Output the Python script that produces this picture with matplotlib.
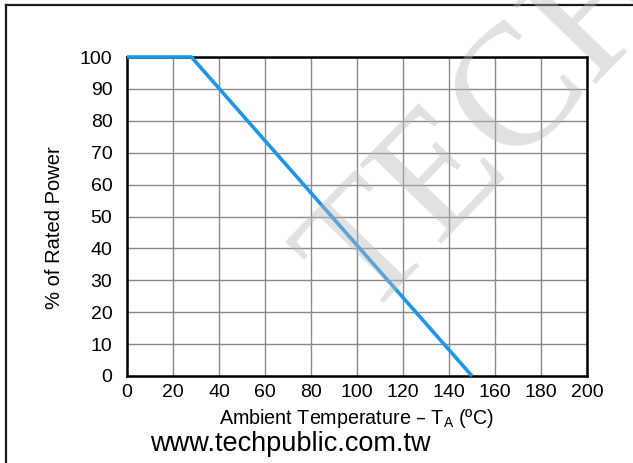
import matplotlib
matplotlib.use("Agg")
import matplotlib.pyplot as plt
from matplotlib.lines import Line2D

plt.rcParams['font.family'] = ['Liberation Sans', 'DejaVu Sans']

# derating curve
temp = [0, 28, 150]
power = [100, 100, 0]
xticks = list(range(0, 201, 20))
yticks = list(range(0, 101, 10))

W, H = 633, 463
fig = plt.figure(figsize=(W / 100, H / 100), dpi=100)

ax = fig.add_axes([127 / W, (H - 376) / H, 460 / W, 319 / H])
ax.plot(temp, power, color='#1e96eb', lw=2.6, solid_capstyle='butt', zorder=3, clip_on=False)
ax.set_xlim(0, 200)
ax.set_ylim(0, 100)
ax.set_xticks(xticks)
ax.set_yticks(yticks)
ax.grid(True, color='#8a8a8a', lw=1.0)
ax.tick_params(length=0, labelsize=14)
ax.tick_params(axis='x', pad=6)
ax.tick_params(axis='y', pad=10.5)
for s in ax.spines.values():
    s.set_linewidth(1.8)
    s.set_color('black')
ax.set_axisbelow(True)

fig.text(356 / W, 1 - 424 / H, 'Ambient Temperature \u2013 T$_\\mathregular{A}$ (\u00baC)',
         fontsize=14.2, ha='center', va='baseline')
fig.text(54 / W, 1 - 228 / H, '% of Rated Power', fontsize=14.5, rotation=90,
         ha='center', va='center')
fig.text(290 / W, 1 - 451 / H, 'www.techpublic.com.tw', fontsize=19.5,
         ha='center', va='baseline')

# outer frame (left and top edges only)
frame = '#231815'
fig.add_artist(Line2D([6 / W, 6 / W], [0, 1 - 5 / H], color=frame, lw=1.6))
fig.add_artist(Line2D([6 / W, 1], [1 - 5 / H, 1 - 5 / H], color=frame, lw=1.6))

# watermark
fig.text(492 / W, 1 - 128 / H, 'TECH', fontsize=125, family='Liberation Serif',
         color='#b8b8b8', alpha=0.42, rotation=46, ha='center', va='center',
         rotation_mode='anchor', zorder=10)

fig.savefig('out.png', dpi=100)
